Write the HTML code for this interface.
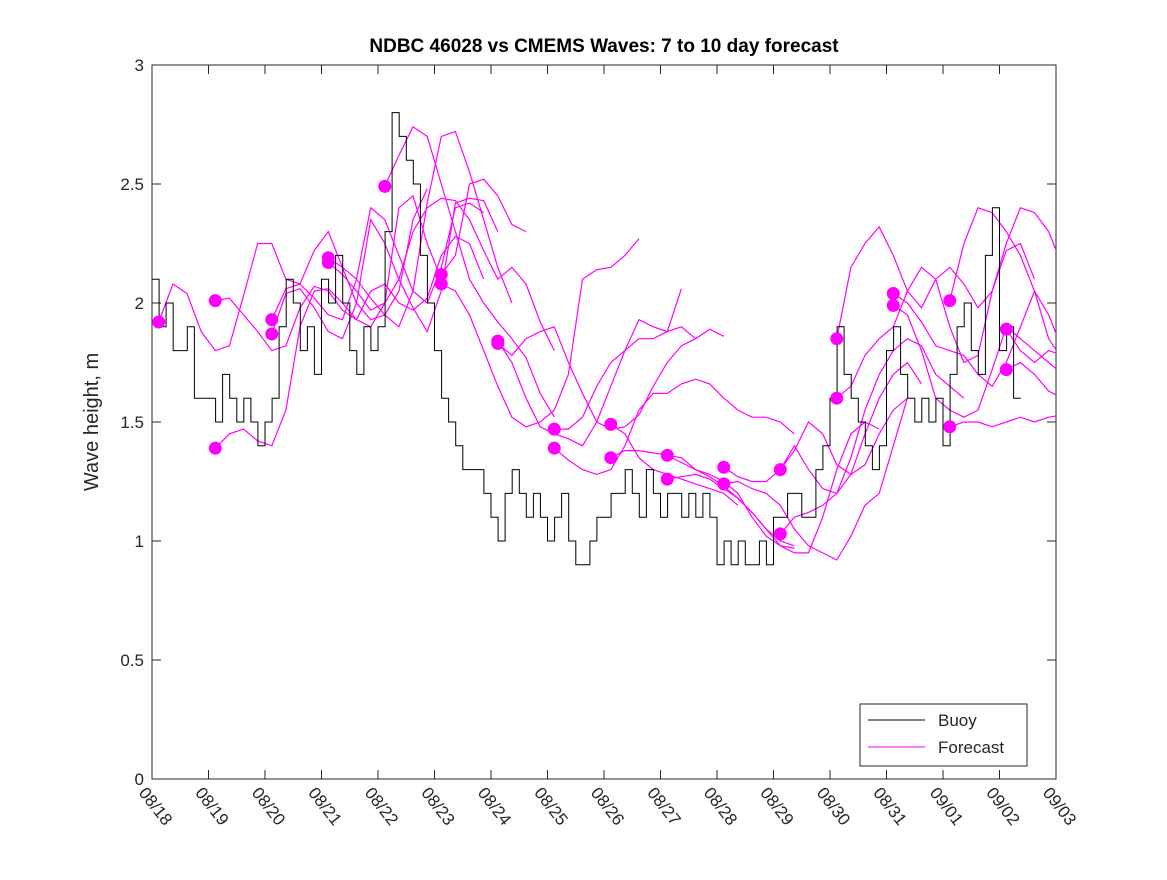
<!DOCTYPE html>
<html><head><meta charset="utf-8"><style>
body{margin:0;background:#fff}
svg text{font-family:"Liberation Sans","DejaVu Sans",sans-serif;fill:#262626}
</style></head><body>
<svg id="chart" width="1167" height="875" xmlns="http://www.w3.org/2000/svg">
<rect width="1167" height="875" fill="#fff"/>
<text x="604" y="52" text-anchor="middle" font-size="19" font-weight="bold" style="fill:#000">NDBC 46028 vs CMEMS Waves: 7 to 10 day forecast</text>
<text transform="translate(98,422) rotate(-90)" text-anchor="middle" font-size="20">Wave height, m</text>
<g id="plot"></g>
</svg>
<script>
const xLabels=["08/18","08/19","08/20","08/21","08/22","08/23","08/24","08/25","08/26","08/27","08/28","08/29","08/30","08/31","09/01","09/02","09/03"];
const yTicks=[0,0.5,1,1.5,2,2.5,3];
const buoyStep=0.125;
const buoyVals=[
2.1,1.9,2.0,1.8,1.8,1.9,1.6,1.6,
1.6,1.5,1.7,1.6,1.5,1.6,1.5,1.4,
1.5,1.6,1.9,2.1,2.0,1.8,1.9,1.7,
2.1,2.0,2.2,2.0,1.8,1.7,1.9,1.8,
1.9,2.3,2.8,2.7,2.6,2.5,2.2,2.0,
1.8,1.6,1.5,1.4,1.3,1.3,1.3,1.2,
1.1,1.0,1.2,1.3,1.2,1.1,1.2,1.1,
1.0,1.1,1.2,1.0,0.9,0.9,1.0,1.1,
1.1,1.2,1.2,1.3,1.2,1.1,1.3,1.2,
1.1,1.2,1.2,1.1,1.2,1.1,1.2,1.1,
0.9,1.0,0.9,1.0,0.9,0.9,1.0,0.9,
1.1,1.1,1.2,1.2,1.1,1.1,1.3,1.4,
1.6,1.9,1.7,1.6,1.5,1.4,1.3,1.4,
1.8,1.9,1.7,1.6,1.5,1.6,1.5,1.6,
1.4,1.7,1.9,2.0,1.8,1.7,2.2,2.4,
1.8,1.9,1.6];
const dotDays=[0.12,1.12,1.12,2.12,2.12,3.12,3.12,4.12,5.12,5.12,6.12,6.12,7.12,7.12,8.12,8.12,9.12,9.12,10.12,10.12,11.12,11.12,12.12,12.12,13.12,13.12,14.12,14.12,15.12,15.12];
const dotVals=[1.92,2.01,1.39,1.93,1.87,2.19,2.17,2.49,2.12,2.08,1.84,1.83,1.47,1.39,1.49,1.35,1.36,1.26,1.31,1.24,1.30,1.03,1.85,1.60,2.04,1.99,2.01,1.48,1.89,1.72];
const fcStep=0.25;
const fcVals=[
[1.92,2.08,2.04,1.88,1.80,1.82,2.03,2.25,2.25,2.10,2.08,2.22,2.30,2.15,2.00,1.93,1.95,2.05,2.35,2.48],
[2.01,2.02,1.95,1.88,1.80,1.82,1.98,2.07,2.05,1.97,1.93,2.05,2.08,2.00,1.97,2.02,2.20,2.28,2.25,2.10],
[1.39,1.45,1.47,1.42,1.40,1.55,1.90,2.05,2.06,2.00,1.93,1.90,2.00,2.40,2.45,2.25,2.10],
[1.93,2.06,2.08,2.02,1.95,1.93,2.10,2.40,2.35,2.20,2.05,2.00,2.15,2.40,2.42,2.38],
[1.87,2.04,2.06,1.98,1.88,1.85,2.00,2.35,2.25,2.10,1.98,1.88,2.05,2.42,2.44,2.43,2.30],
[2.19,2.15,2.10,2.02,1.95,1.90,2.05,2.42,2.70,2.72,2.55,2.35,2.15,2.00],
[2.17,2.12,2.05,1.97,2.00,2.10,2.30,2.40,2.44,2.43,2.35,2.22,2.10,2.15,2.08,1.92,1.80],
[2.49,2.62,2.74,2.70,2.50,2.30,2.10,2.00,1.92,1.85,1.77,1.62,1.52],
[2.12,2.20,2.50,2.52,2.45,2.33,2.30],
[2.08,2.05,1.95,1.80,1.65,1.52,1.48,1.50,1.55,1.70,2.10,2.14,2.15,2.20,2.27],
[1.84,1.75,1.60,1.48,1.45,1.43,1.40,1.50,1.65,1.80,1.93,1.90,1.88,2.06],
[1.83,1.78,1.85,1.88,1.90,1.75,1.62,1.50,1.47,1.48,1.53,1.65,1.75,1.82,1.85,1.89,1.86],
[1.47,1.47,1.52,1.65,1.75,1.80,1.85,1.85,1.88,1.90,1.85],
[1.39,1.34,1.30,1.28,1.30,1.40,1.55,1.62,1.62,1.66,1.68,1.66,1.60,1.55,1.52,1.52,1.50,1.45],
[1.49,1.45,1.35,1.30,1.28,1.26,1.24,1.22,1.20,1.15],
[1.35,1.38,1.38,1.37,1.36,1.35,1.30,1.28,1.25,1.20,1.10,1.02,0.98,0.97],
[1.36,1.33,1.30,1.27,1.23,1.18,1.12,1.05,1.00,0.98],
[1.26,1.27,1.28,1.26,1.22,1.18,1.12,1.05,0.98,0.95,0.95,1.10,1.30,1.45,1.50,1.47],
[1.31,1.27,1.25,1.25,1.30,1.38,1.50,1.45,1.32,1.28,1.32,1.45,1.55,1.60],
[1.24,1.25,1.22,1.20,1.15,1.05,0.98,0.95,0.92,1.02,1.15,1.20,1.40,1.60],
[1.30,1.40,1.30,1.22,1.20,1.28,1.45,1.60,1.70,1.75,1.66],
[1.03,1.10,1.12,1.15,1.20,1.35,1.55,1.70,1.80,1.85,1.82,1.70,1.65,1.60],
[1.85,2.15,2.25,2.32,2.20,2.05,1.98,2.10,2.15,2.08,1.98,2.05,2.25,2.40,2.38,2.30,2.15],
[1.60,1.65,1.78,1.85,1.90,2.05,2.15,2.10,1.90,1.75,1.78,2.05,2.22,2.25,2.10],
[2.04,2.00,1.92,1.82,1.80,1.78,1.70,1.65,1.75,1.90,2.05,1.95,1.80,1.60,1.38],
[1.99,1.95,1.80,1.60,1.55,1.52,1.55,1.72,1.90,1.85,1.80,1.75,1.70,1.72],
[2.01,2.25,2.40,2.38,2.30,2.20,2.05,1.85,1.76,1.82,1.93],
[1.48,1.50,1.50,1.48,1.50,1.52,1.50,1.52,1.53,1.53,1.53,1.53],
[1.89,1.80,1.75,1.80,1.78,1.70,1.66,1.62,1.58,1.56],
[1.72,1.75,1.70,1.63,1.60,1.58,1.57,1.57]];
const L=152,R=1056,T=65,B=779;
const sx=d=>L+(R-L)*d/16, sy=v=>B-(B-T)*v/3;
const NS="http://www.w3.org/2000/svg";
const g=document.getElementById('plot');
function mk(tag,attrs,parent){const e=document.createElementNS(NS,tag);for(const k in attrs)e.setAttribute(k,attrs[k]);(parent||g).appendChild(e);return e;}
const clip=mk('clipPath',{id:'cp'});mk('rect',{x:L,y:T,width:R-L,height:B-T},clip);
// axes box
const box=mk('rect',{x:L,y:T,width:R-L,height:B-T,fill:'none',stroke:'#262626','stroke-width':1});


yTicks.forEach(v=>{
  const y=sy(v);
  const t=mk('path',{d:`M${L} ${y}H${L+9}M${R} ${y}H${R-9}`,stroke:'#262626'});
  
  
  const tx=mk('text',{x:L-8,y:y+6,'text-anchor':'end','font-size':17});
  tx.textContent=String(v);
  
  
});
xLabels.forEach((lab,i)=>{
  const x=sx(i);
  const t=mk('path',{d:`M${x} ${B}V${B-9}M${x} ${T}V${T+9}`,stroke:'#262626'});
  
  
  const tx=mk('text',{transform:`translate(${x-14},${B+14}) rotate(52)`,'font-size':17});
  tx.textContent=lab;
  
  
});
// forecasts
const fg=mk('g',{'clip-path':'url(#cp)'});
fcVals.forEach((vals,k)=>{
  const s=dotDays[k];
  const pts=vals.map((v,j)=>`${sx(s+j*fcStep).toFixed(1)},${sy(v).toFixed(1)}`).join(' ');
  const p=mk('polyline',{points:pts,fill:'none',stroke:'#ff00ff','stroke-width':1.2},fg);
  
  
});
// buoy step line
let d='';
buoyVals.forEach((v,i)=>{const x=sx(i*buoyStep),y=sy(v);d+=(i?`H${x.toFixed(1)}V${y.toFixed(1)}`:`M${x} ${y}`);});
d+=`H${sx(buoyVals.length*buoyStep).toFixed(1)}`;
const bp=mk('path',{d:d,fill:'none',stroke:'#000','stroke-width':1},fg);


dotDays.forEach((dd,k)=>{
  const c=mk('circle',{cx:sx(dd),cy:sy(dotVals[k]),r:6.5,fill:'#ff00ff'},fg);
  
  
});
// legend
const lg=mk('g',{});


mk('rect',{x:860,y:704,width:167,height:62,fill:'#fff',stroke:'#262626'},lg);
const e1=mk('path',{d:'M868 720H925',stroke:'#000'},lg);


const t1=mk('text',{x:938,y:726,'font-size':17},lg);t1.textContent='Buoy';
const e2=mk('path',{d:'M868 747H925',stroke:'#ff00ff'},lg);


const t2=mk('text',{x:938,y:753,'font-size':17},lg);t2.textContent='Forecast';
</script>
</body></html>
